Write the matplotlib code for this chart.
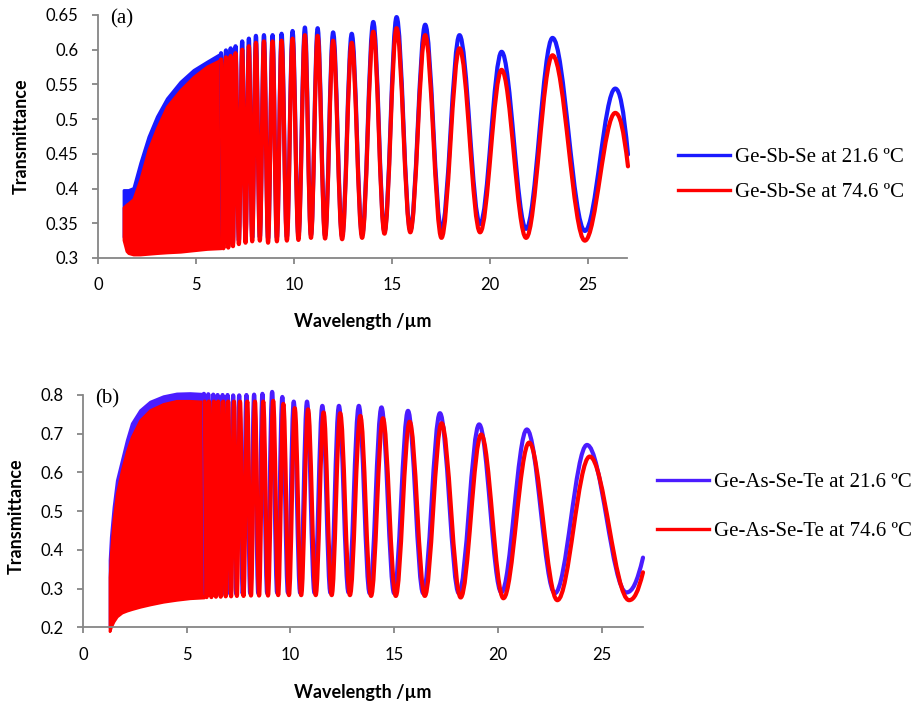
import matplotlib
matplotlib.use('Agg')
import matplotlib.pyplot as plt
from matplotlib.path import Path
from matplotlib.patches import PathPatch
from matplotlib.lines import Line2D
from matplotlib.ticker import FuncFormatter, MultipleLocator

# ---------------- Panel (a): Ge-Sb-Se ----------------
# unresolved (dense) fringe band, envelopes
a_band_wl = [1.30, 1.45, 1.55, 1.80, 2.15, 2.57, 3.00, 3.51, 4.20, 4.87, 5.56, 6.28]
a_blue_band_top = [0.398, 0.398, 0.398, 0.401, 0.437, 0.475, 0.504, 0.530, 0.554, 0.571, 0.583, 0.595]
a_blue_band_bot = [0.331, 0.316, 0.313, 0.311, 0.311, 0.312, 0.313, 0.314, 0.315, 0.317, 0.319, 0.320]
a_red_band_top = [0.373, 0.377, 0.379, 0.385, 0.413, 0.456, 0.487, 0.518, 0.542, 0.561, 0.576, 0.586]
a_red_band_bot = [0.326, 0.310, 0.307, 0.305, 0.305, 0.306, 0.307, 0.308, 0.309, 0.311, 0.313, 0.314]

# resolved fringes: maxima / minima
a_peak_wl = [6.28, 6.53, 6.77, 7.02, 7.36, 7.70, 8.06, 8.47, 8.91, 9.37, 9.93, 10.56,
             11.21, 12.00, 12.95, 14.05, 15.24, 16.70, 18.45, 20.60, 23.20, 26.40]
a_trough_wl = [6.40, 6.65, 6.89, 7.19, 7.53, 7.87, 8.26, 8.68, 9.13, 9.64, 10.23, 10.87,
               11.59, 12.46, 13.48, 14.62, 15.94, 17.53, 19.50, 21.85, 24.85]
a_blue_peak = [0.595, 0.599, 0.602, 0.605, 0.612, 0.616, 0.620, 0.621, 0.621, 0.623, 0.627, 0.632,
               0.631, 0.625, 0.623, 0.640, 0.647, 0.636, 0.621, 0.597, 0.617, 0.544]
a_blue_trough = [0.320, 0.320, 0.322, 0.325, 0.327, 0.329, 0.330, 0.328, 0.329, 0.330, 0.331, 0.333,
                 0.332, 0.331, 0.333, 0.338, 0.340, 0.340, 0.349, 0.342, 0.339]
a_red_peak = [0.586, 0.589, 0.591, 0.595, 0.600, 0.605, 0.610, 0.612, 0.612, 0.613, 0.616, 0.621,
              0.620, 0.613, 0.610, 0.626, 0.631, 0.621, 0.602, 0.571, 0.592, 0.509]
a_red_trough = [0.314, 0.315, 0.317, 0.320, 0.322, 0.324, 0.325, 0.322, 0.324, 0.325, 0.326, 0.329,
                0.328, 0.327, 0.329, 0.335, 0.337, 0.329, 0.337, 0.329, 0.325]
a_blue_end = (27.05, 0.449)
a_red_end = (27.05, 0.432)

# ---------------- Panel (b): Ge-As-Se-Te ----------------
b_band_wl = [1.28, 1.34, 1.47, 1.63, 1.87, 2.11, 2.35, 2.75, 3.23, 3.87, 4.51, 5.15, 5.83]
b_blue_band_top = [0.374, 0.434, 0.511, 0.580, 0.632, 0.684, 0.727, 0.761, 0.783, 0.797, 0.804, 0.805, 0.803]
b_blue_band_bot = [0.200, 0.207, 0.221, 0.234, 0.244, 0.249, 0.253, 0.259, 0.265, 0.272, 0.277, 0.281, 0.283]
b_red_band_top = [0.330, 0.391, 0.477, 0.546, 0.606, 0.654, 0.692, 0.735, 0.761, 0.777, 0.785, 0.785, 0.783]
b_red_band_bot = [0.190, 0.200, 0.215, 0.228, 0.238, 0.243, 0.247, 0.253, 0.259, 0.266, 0.271, 0.275, 0.277]

b_blue_peak_wl = [5.83, 6.04, 6.28, 6.49, 6.73, 6.97, 7.24, 7.53, 7.88, 8.25, 8.65, 9.12,
                  9.61, 10.16, 10.80, 11.54, 12.34, 13.30, 14.39, 15.67, 17.21, 19.10, 21.40, 24.30]
b_blue_trough_wl = [5.93, 6.16, 6.38, 6.61, 6.85, 7.10, 7.38, 7.70, 8.06, 8.45, 8.88, 9.36,
                    9.88, 10.47, 11.16, 11.93, 12.80, 13.82, 15.00, 16.40, 18.12, 20.17, 22.75, 26.20]
b_red_peak_wl = [5.86, 6.07, 6.31, 6.52, 6.76, 7.00, 7.28, 7.57, 7.92, 8.29, 8.69, 9.17,
                 9.66, 10.21, 10.85, 11.60, 12.40, 13.37, 14.46, 15.75, 17.29, 19.20, 21.51, 24.43]
b_red_trough_wl = [5.96, 6.19, 6.41, 6.64, 6.88, 7.14, 7.42, 7.74, 8.10, 8.49, 8.92, 9.41,
                   9.93, 10.52, 11.22, 11.99, 12.87, 13.89, 15.08, 16.48, 18.21, 20.27, 22.87, 26.33]
b_blue_peak = [0.803, 0.802, 0.801, 0.800, 0.800, 0.800, 0.799, 0.799, 0.800, 0.801, 0.803, 0.808,
               0.795, 0.783, 0.783, 0.772, 0.772, 0.772, 0.768, 0.759, 0.753, 0.724, 0.711, 0.671]
b_blue_trough = [0.284, 0.284, 0.285, 0.285, 0.286, 0.286, 0.287, 0.287, 0.288, 0.288, 0.288, 0.289,
                 0.289, 0.289, 0.289, 0.289, 0.290, 0.288, 0.288, 0.288, 0.288, 0.290, 0.288, 0.290]
b_red_peak = [0.783, 0.783, 0.783, 0.783, 0.783, 0.783, 0.783, 0.783, 0.783, 0.783, 0.783, 0.785,
              0.777, 0.766, 0.763, 0.755, 0.753, 0.746, 0.740, 0.731, 0.727, 0.698, 0.677, 0.641]
b_red_trough = [0.278, 0.278, 0.279, 0.279, 0.280, 0.280, 0.281, 0.281, 0.282, 0.282, 0.282, 0.283,
                0.283, 0.283, 0.283, 0.283, 0.283, 0.281, 0.281, 0.281, 0.277, 0.275, 0.270, 0.270]
b_blue_end = (27.0, 0.380)
b_red_end = (27.0, 0.342)

labels_a = ['Ge-Sb-Se at 21.6 ºC', 'Ge-Sb-Se at 74.6 ºC']
labels_b = ['Ge-As-Se-Te at 21.6 ºC', 'Ge-As-Se-Te at 74.6 ºC']

BLUE_A = '#1a1aff'
BLUE_B = '#4b1cff'
RED = '#ff0000'
AXC = '#868686'
LW = 3.0
SANS = ['Lato', 'DejaVu Sans']
SERIF = ['Liberation Serif', 'DejaVu Serif']


def interleave(pw, pv, tw, tv, end):
    xs, ys = [], []
    for i in range(max(len(pw), len(tw))):
        if i < len(pw):
            xs.append(pw[i]); ys.append(pv[i])
        if i < len(tw):
            xs.append(tw[i]); ys.append(tv[i])
    xs.append(end[0]); ys.append(end[1])
    return xs, ys


def fringe_path(xs, ys):
    a = 0.36
    verts = [(xs[0], ys[0])]
    codes = [Path.MOVETO]
    n = len(xs)
    for i in range(1, n):
        x0, y0, x1, y1 = xs[i - 1], ys[i - 1], xs[i], ys[i]
        d = x1 - x0
        s1 = 2 * (y1 - y0) / d if i == n - 1 else 0.0
        verts += [(x0 + a * d, y0), (x1 - a * d, y1 - s1 * a * d), (x1, y1)]
        codes += [Path.CURVE4] * 3
    return Path(verts, codes)


def draw_series(ax, band_wl, top, bot, xs, ys, color):
    ax.fill_between(band_wl, bot, top, facecolor=color, edgecolor=color,
                    linewidth=2.0, clip_on=False, zorder=2)
    ax.add_patch(PathPatch(fringe_path(xs, ys), facecolor='none', edgecolor=color,
                           linewidth=LW, capstyle='round', joinstyle='round',
                           clip_on=False, zorder=3))


def style_axes(ax, ylo, yhi, ystep, ylab_x, ylab_y, xlab_y, tag):
    ax.set_xlim(0, 27)
    ax.set_ylim(ylo, yhi)
    ax.xaxis.set_major_locator(MultipleLocator(5))
    ax.yaxis.set_major_locator(MultipleLocator(ystep))
    ax.yaxis.set_major_formatter(FuncFormatter(lambda v, p: f'{v:g}'))
    for s in ['top', 'right']:
        ax.spines[s].set_visible(False)
    for s in ['left', 'bottom']:
        ax.spines[s].set_color(AXC)
        ax.spines[s].set_linewidth(1.3)
    ax.tick_params(direction='out', length=4, width=1.3, color=AXC,
                   labelsize=12, pad=10)
    for lab in ax.get_xticklabels() + ax.get_yticklabels():
        lab.set_family(SANS)
    ax.set_xlabel('Wavelength /µm', family=SANS, fontweight='bold', fontsize=13)
    ax.xaxis.set_label_coords(0.5, xlab_y)
    ax.xaxis.label.set_va('center')
    ax.set_ylabel('Transmittance', family=SANS, fontweight='bold', fontsize=13)
    ax.yaxis.set_label_coords(ylab_x, ylab_y)
    ax.yaxis.label.set_va('center')
    ax.text(0.022, 0.985, tag, transform=ax.transAxes, family=SERIF, fontsize=15,
            ha='left', va='center')


fig = plt.figure(figsize=(9.2, 7.02), dpi=100)
W, H = 920.0, 702.0
ax1 = fig.add_axes([98 / W, 1 - 258 / H, 529 / W, 243 / H])
ax2 = fig.add_axes([83 / W, 1 - 627.3 / H, 560 / W, 232.3 / H])

# panel (a)
xs, ys = interleave(a_peak_wl, a_blue_peak, a_trough_wl, a_blue_trough, a_blue_end)
draw_series(ax1, a_band_wl, a_blue_band_top, a_blue_band_bot, xs, ys, BLUE_A)
xs, ys = interleave(a_peak_wl, a_red_peak, a_trough_wl, a_red_trough, a_red_end)
draw_series(ax1, a_band_wl, a_red_band_top, a_red_band_bot, xs, ys, RED)
style_axes(ax1, 0.3, 0.65, 0.05, -0.146, 0.50, -0.263, '(a)')

# panel (b)
xs, ys = interleave(b_blue_peak_wl, b_blue_peak, b_blue_trough_wl, b_blue_trough, b_blue_end)
draw_series(ax2, b_band_wl, b_blue_band_top, b_blue_band_bot, xs, ys, BLUE_B)
xs, ys = interleave(b_red_peak_wl, b_red_peak, b_red_trough_wl, b_red_trough, b_red_end)
draw_series(ax2, b_band_wl, b_red_band_top, b_red_band_bot, xs, ys, RED)
style_axes(ax2, 0.2, 0.8, 0.1, -0.119, 0.477, -0.279, '(b)')

# legends
h_a = [Line2D([], [], color=BLUE_A, lw=2.4), Line2D([], [], color=RED, lw=2.4)]
leg1 = fig.legend(h_a, labels_a, loc='center left', bbox_to_anchor=(678 / W, 1 - 175 / H),
                  frameon=False, prop={'family': SERIF, 'size': 15}, handlelength=2.5,
                  handletextpad=0.25, labelspacing=0.75, borderpad=0, borderaxespad=0)
h_b = [Line2D([], [], color=BLUE_B, lw=2.4), Line2D([], [], color=RED, lw=2.4)]
leg2 = fig.legend(h_b, labels_b, loc='center left', bbox_to_anchor=(657 / W, 1 - 507 / H),
                  frameon=False, prop={'family': SERIF, 'size': 15}, handlelength=2.5,
                  handletextpad=0.25, labelspacing=1.4, borderpad=0, borderaxespad=0)

fig.savefig('out.png', dpi=100)
